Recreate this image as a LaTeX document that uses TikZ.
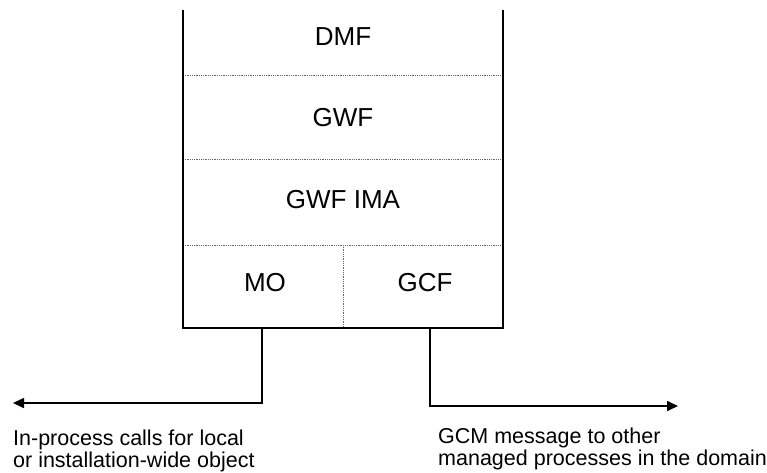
\documentclass[tikz,border=0pt]{standalone}
\usepackage{fontspec}
\setmainfont{Liberation Sans}
\usetikzlibrary{arrows.meta}

\tikzset{
  layer/.style={font=\fontsize{26}{30}\selectfont, inner sep=0pt},
  sep/.style={densely dotted, black!60, line width=0.8pt},
  wall/.style={line width=2.4pt},
  wire/.style={line width=1.6pt, -{Triangle[length=11pt,width=10pt]}},
  note/.style={font=\fontsize{21.5}{22}\selectfont, align=left, inner sep=0pt, anchor=north west}
}

\begin{document}
\begin{tikzpicture}[x=1pt,y=-1pt]
\useasboundingbox (0,0) rectangle (767,472);
% stack
\coordinate (tl) at (183,10);
\coordinate (bl) at (183,328);
\coordinate (br) at (503,328);
\coordinate (tr) at (503,10);
\draw[sep] (183,75) -- (503,75);
\draw[sep] (183,159) -- (503,159);
\draw[sep] (183,245) -- (503,245);
\draw[sep] (343,245) -- (343,328);
\draw[wall] (tl) -- (bl) -- (br) -- (tr);
\node[layer] (dmf) at (343,37) {DMF};
\node[layer] (gwf) at (343,118) {GWF};
\node[layer] (ima) at (343,200) {GWF IMA};
\node[layer] (mo) at (265,283) {MO};
\node[layer] (gcf) at (425,283) {GCF};
% outputs
\coordinate (mo out) at (262,328);
\coordinate (calls end) at (13,403);
\coordinate (gcf out) at (430,328);
\coordinate (msg end) at (678,406);
\draw[wire] (mo out) |- (calls end);
\draw[wire] (gcf out) |- (msg end);
\node[note] (calls) at (13,430) {In-process calls for local\\or installation-wide object};
\node[note] (msg) at (438,428) {GCM message to other\\managed processes in the domain};
\end{tikzpicture}
\end{document}
